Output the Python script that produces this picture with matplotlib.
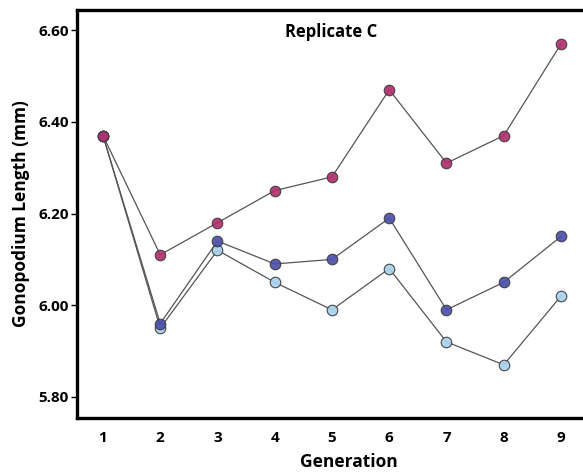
import matplotlib
matplotlib.use("Agg")
import matplotlib.pyplot as plt

plt.rcParams['font.family'] = ['Open Sans', 'DejaVu Sans']

generation = [1, 2, 3, 4, 5, 6, 7, 8, 9]
line_magenta = [6.37, 6.11, 6.18, 6.25, 6.28, 6.47, 6.31, 6.37, 6.57]
line_darkblue = [6.37, 5.96, 6.14, 6.09, 6.10, 6.19, 5.99, 6.05, 6.15]
line_lightblue = [6.37, 5.95, 6.12, 6.05, 5.99, 6.08, 5.92, 5.87, 6.02]

yticks = [5.80, 6.00, 6.20, 6.40, 6.60]

fig = plt.figure(figsize=(5.83, 4.72), dpi=100)
ax = fig.add_axes([77 / 583, 1 - 418 / 472, (620 - 77) / 583, (418 - 10) / 472])

series = [
    (line_lightblue, '#a9d2ee'),
    (line_darkblue, '#4b50ad'),
    (line_magenta, '#b2306f'),
]
for vals, col in series:
    ax.plot(generation, vals, color='#555555', lw=0.9, zorder=2)
    ax.plot(generation, vals, ls='none', marker='o', ms=7.6,
            mfc=col, mec='#3a3a3a', mew=0.8, alpha=0.92, zorder=3)

ax.set_xlim(0.546, 9 + (620 - 561) / 57.25)
ax.set_ylim(5.754, 6.644)
ax.set_xticks(generation)
ax.set_yticks(yticks)
ax.set_yticklabels([f'{v:.2f}' for v in yticks])

for side in ['left', 'bottom', 'top']:
    ax.spines[side].set_linewidth(2.4)
ax.spines['right'].set_visible(False)

ax.tick_params(axis='y', length=4, width=1, labelsize=11, pad=2)
ax.tick_params(axis='x', length=0, labelsize=11, pad=9)
for lab in ax.get_xticklabels() + ax.get_yticklabels():
    lab.set_fontweight('bold')

ax.set_xlabel('Generation', fontsize=12.5, fontweight='bold', labelpad=6)
ax.set_ylabel('Gonopodium Length (mm)', fontsize=12.5, fontweight='bold', labelpad=6)

ax.text(4.98, 6.595, 'Replicate C', ha='center', va='center',
        fontsize=12, fontweight='bold')

fig.savefig('out.png', dpi=100)
